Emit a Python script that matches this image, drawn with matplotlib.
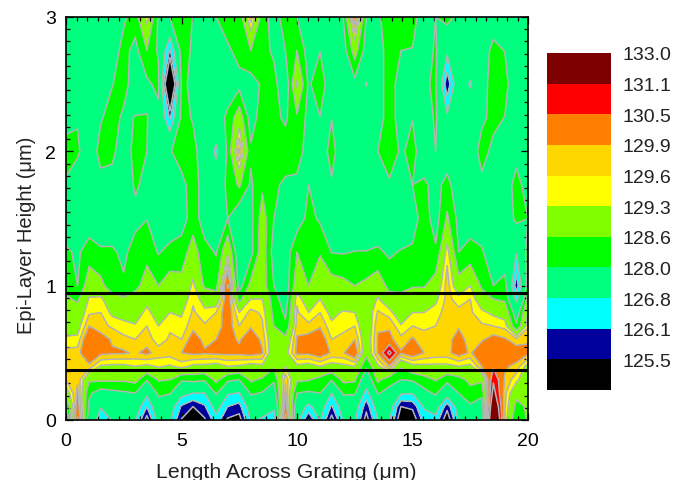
"""
Epi-layer contour map across a grating, with a stepped colour key.
"""

import matplotlib
matplotlib.use("Agg")
import matplotlib.pyplot as plt
import numpy as np
from matplotlib.colors import BoundaryNorm, ListedColormap
from matplotlib.ticker import MultipleLocator

plt.rcParams["font.family"] = ["Liberation Sans", "DejaVu Sans"]

# Contour boundaries and the colour of each band, low to high.
levels = [120.0, 125.5, 126.1, 126.8, 128.0, 128.6, 129.3, 129.6, 129.9, 130.5, 131.1, 133.0, 140.0]
band_colors = ["#000000", "#00009c", "#00ffff", "#00ff7f", "#00ff00", "#7fff00",
               "#ffff00", "#ffd700", "#ff7f00", "#ff0000", "#7f0000", "#7f0000"]
key_levels = [133.0, 131.1, 130.5, 129.9, 129.6, 129.3, 128.6, 128.0, 126.8, 126.1, 125.5]
key_colors = ["#7f0000", "#ff0000", "#ff7f00", "#ffd700", "#ffff00", "#7fff00",
              "#00ff00", "#00ff7f", "#00ffff", "#00009c", "#000000"]

height_um = [0, 0.1, 0.2, 0.3, 0.4, 0.5, 0.6, 0.7, 0.8, 0.9, 1.0, 1.25, 1.5, 1.75, 2.0, 2.25, 2.5, 2.75, 3.0]
length_um = [0, 0.5, 1, 1.5, 2, 2.5, 3, 3.5, 4, 4.5, 5, 5.5, 6, 6.5, 7, 7.5, 8, 8.5, 9, 9.5, 10,
             10.5, 11, 11.5, 12, 12.5, 13, 13.5, 14, 14.5, 15, 15.5, 16, 16.5, 17, 17.5, 18, 18.5, 19, 19.5, 20]

# One list per grating position, bottom of the layer to the top.
col_00 = [127.0, 128.0, 129.0, 129.6, 129.75, 129.7, 129.4, 129.0, 128.8, 128.7, 128.4, 128.1, 127.6, 127.9, 128.3, 127.7, 127.4, 127.4, 127.3]
col_01 = [130.6, 130.2, 130.0, 129.85, 129.8, 129.75, 129.4, 129.1, 128.9, 128.5, 128.0, 127.9, 127.4, 127.6, 128.1, 127.95, 127.5, 127.4, 127.3]
col_02 = [127.5, 127.9, 128.1, 128.7, 129.8, 130.4, 130.4, 129.9, 129.55, 129.35, 129.0, 128.3, 127.6, 127.4, 127.6, 127.5, 127.4, 127.4, 127.3]
col_03 = [126.4, 126.85, 127.7, 128.7, 129.25, 130.0, 130.1, 129.7, 129.6, 129.4, 128.8, 128.1, 127.5, 127.8, 128.2, 127.95, 127.6, 127.4, 127.4]
col_04 = [126.85, 127.0, 127.8, 128.7, 129.2, 129.95, 129.85, 129.55, 129.2, 128.9, 128.2, 128.1, 127.5, 127.67, 128.2, 128.2, 127.98, 127.7, 127.5]
col_05 = [127.2, 127.2, 127.9, 128.7, 129.2, 129.95, 129.7, 129.4, 129.15, 128.7, 128.1, 127.85, 127.6, 127.5, 127.5, 127.9, 128.2, 128.2, 127.9]
col_06 = [126.9, 127.4, 128.0, 128.8, 129.3, 129.85, 129.6, 129.35, 129.0, 128.9, 128.4, 128.3, 127.8, 128.1, 128.3, 128.02, 127.7, 127.8, 128.3]
col_07 = [125.2, 126.1, 127.0, 128.05, 129.2, 130.0, 129.75, 129.6, 129.45, 129.1, 128.9, 128.4, 127.98, 127.8, 128.0, 128.02, 127.85, 128.6, 129.5]
col_08 = [127.2, 127.6, 128.15, 128.65, 129.35, 129.75, 129.45, 129.3, 129.0, 128.8, 128.6, 127.95, 127.5, 127.5, 127.5, 127.75, 128.2, 127.9, 127.9]
col_09 = [126.9, 127.3, 128.05, 128.6, 129.25, 129.75, 129.65, 129.55, 129.3, 129.0, 128.9, 128.2, 127.5, 127.5, 127.95, 126.0, 123.5, 126.0, 128.0]
col_10 = [125.45, 126.0, 127.1, 128.1, 129.45, 129.9, 129.6, 129.4, 129.25, 129.0, 128.8, 128.3, 127.7, 127.8, 128.3, 128.2, 128.1, 128.3, 128.3]
col_11 = [124.8, 125.5, 126.8, 128.2, 129.2, 130.0, 130.1, 129.8, 129.65, 129.55, 129.4, 128.9, 128.3, 128.3, 128.2, 127.95, 127.9, 127.9, 127.98]
col_12 = [125.4, 126.0, 126.8, 128.1, 129.2, 129.95, 129.8, 129.65, 129.4, 129.1, 128.5, 128.2, 127.7, 127.7, 127.6, 127.6, 127.5, 127.6, 127.6]
col_13 = [126.5, 127.2, 128.1, 128.75, 129.1, 130.0, 129.9, 129.7, 129.6, 128.9, 128.4, 127.95, 127.5, 127.5, 126.6, 127.6, 127.6, 127.8, 128.0]
col_14 = [125.4, 126.1, 126.9, 128.15, 129.3, 130.0, 130.05, 130.1, 130.2, 130.3, 130.55, 129.2, 128.0, 128.15, 128.15, 128.15, 127.6, 127.9, 128.3]
col_15 = [125.2, 125.85, 126.75, 128.0, 129.25, 130.0, 129.85, 129.6, 129.3, 128.4, 127.7, 127.4, 127.4, 128.7, 130.0, 129.0, 127.8, 128.2, 128.2]
col_16 = [126.9, 127.35, 128.1, 128.7, 129.1, 130.1, 130.2, 129.85, 129.7, 129.3, 128.8, 127.8, 127.8, 127.9, 128.1, 127.7, 127.7, 128.6, 129.8]
col_17 = [126.7, 127.2, 127.95, 128.5, 129.2, 129.95, 129.8, 129.65, 129.55, 129.3, 128.9, 129.0, 128.9, 128.5, 128.3, 128.3, 128.1, 128.2, 128.3]
col_18 = [126.3, 127.0, 127.6, 128.1, 128.7, 128.8, 128.8, 128.6, 128.4, 128.3, 128.0, 127.7, 128.0, 128.1, 128.3, 128.15, 128.2, 127.9, 127.7]
col_19 = [130.7, 130.2, 130.0, 129.85, 129.3, 129.1, 128.8, 128.1, 127.9, 127.6, 127.6, 127.6, 127.5, 127.9, 128.3, 127.9, 127.5, 128.0, 128.3]
col_20 = [127.1, 127.4, 128.0, 128.7, 129.2, 130.0, 129.95, 129.75, 129.65, 129.55, 129.0, 128.6, 127.6, 127.95, 128.1, 128.5, 129.4, 128.6, 128.0]
col_21 = [125.45, 126.6, 127.9, 128.65, 129.1, 130.0, 130.05, 129.7, 129.3, 128.9, 128.6, 128.5, 128.2, 128.0, 127.9, 127.8, 127.9, 127.7, 127.7]
col_22 = [126.9, 127.3, 128.0, 128.4, 129.3, 130.2, 130.2, 129.85, 129.6, 129.3, 129.0, 128.55, 127.9, 127.6, 127.5, 127.98, 128.4, 127.98, 127.5]
col_23 = [125.2, 126.0, 126.8, 128.05, 129.1, 129.85, 129.6, 129.4, 129.15, 128.85, 128.9, 127.98, 127.4, 127.9, 128.3, 127.98, 127.5, 127.5, 127.7]
col_24 = [126.9, 127.3, 128.1, 128.75, 129.2, 129.85, 129.7, 129.5, 129.35, 128.95, 128.8, 127.95, 127.4, 127.4, 127.4, 127.4, 127.5, 127.7, 128.0]
col_25 = [126.9, 127.3, 128.1, 128.7, 129.3, 130.3, 129.9, 129.6, 129.3, 129.0, 128.6, 128.02, 127.4, 127.4, 127.4, 127.4, 127.8, 128.9, 130.2]
col_26 = [125.2, 125.7, 126.5, 127.4, 128.1, 128.8, 128.9, 128.8, 128.9, 128.9, 128.75, 128.02, 127.5, 127.5, 127.5, 127.6, 126.75, 127.7, 128.0]
col_27 = [126.8, 127.3, 128.05, 128.75, 129.2, 129.95, 129.95, 129.85, 129.65, 129.35, 129.0, 128.1, 127.5, 127.7, 128.0, 127.8, 127.8, 127.7, 127.9]
col_28 = [126.9, 127.3, 127.8, 128.2, 129.9, 131.3, 130.0, 129.85, 129.45, 128.85, 128.4, 127.9, 127.4, 127.9, 128.4, 128.2, 128.2, 128.3, 128.3]
col_29 = [124.9, 125.5, 126.9, 128.0, 128.7, 129.95, 129.7, 129.35, 128.9, 128.7, 128.5, 128.05, 127.4, 127.4, 127.9, 127.8, 127.8, 128.0, 128.3]
col_30 = [125.0, 125.65, 126.85, 128.1, 129.15, 130.2, 129.95, 129.6, 129.3, 128.9, 128.55, 128.1, 127.7, 128.0, 128.2, 127.98, 127.6, 127.98, 128.2]
col_31 = [126.4, 126.9, 127.8, 128.35, 129.2, 129.9, 129.7, 129.55, 129.3, 129.0, 128.55, 128.4, 128.3, 128.1, 127.6, 127.6, 127.9, 127.6, 127.7]
col_32 = [126.5, 127.3, 128.1, 128.65, 129.2, 129.8, 129.7, 129.6, 129.45, 129.2, 128.9, 128.1, 127.7, 127.8, 128.0, 128.1, 128.1, 128.1, 128.0]
col_33 = [125.0, 125.7, 127.3, 128.2, 129.2, 129.8, 129.75, 129.75, 129.75, 129.7, 129.75, 129.5, 128.7, 128.2, 127.6, 127.0, 125.6, 127.0, 128.3]
col_34 = [126.9, 127.3, 128.0, 128.4, 129.3, 130.1, 130.1, 129.85, 129.7, 129.45, 128.9, 128.0, 127.8, 127.6, 127.5, 127.5, 127.6, 127.6, 127.7]
col_35 = [127.5, 127.9, 128.4, 128.75, 129.2, 129.85, 129.7, 129.7, 129.65, 129.6, 129.3, 128.2, 127.7, 127.5, 127.5, 127.6, 126.7, 127.6, 127.6]
col_36 = [127.3, 127.6, 128.2, 128.7, 129.9, 130.2, 129.85, 129.65, 129.4, 128.9, 128.5, 128.1, 127.5, 127.8, 128.3, 127.85, 127.6, 127.6, 127.6]
col_37 = [133.0, 132.2, 131.4, 131.0, 130.4, 130.3, 130.05, 129.6, 129.2, 128.6, 128.0, 127.4, 127.4, 127.5, 127.8, 128.2, 128.4, 128.2, 127.6]
col_38 = [129.6, 129.65, 129.7, 129.85, 129.95, 130.05, 129.95, 129.5, 129.05, 128.5, 128.3, 127.4, 127.4, 127.4, 127.6, 127.98, 128.2, 127.98, 127.6]
col_39 = [128.0, 128.4, 128.8, 129.4, 129.8, 130.15, 129.7, 128.1, 127.6, 126.6, 125.7, 126.85, 128.2, 128.4, 127.6, 127.5, 127.5, 127.5, 127.5]
col_40 = [128.7, 128.7, 128.8, 128.85, 129.1, 130.0, 129.85, 129.55, 129.35, 128.8, 128.4, 128.3, 128.0, 127.5, 127.5, 127.5, 127.5, 127.5, 127.5]

columns = [col_00, col_01, col_02, col_03, col_04, col_05, col_06, col_07, col_08, col_09, col_10,
           col_11, col_12, col_13, col_14, col_15, col_16, col_17, col_18, col_19, col_20,
           col_21, col_22, col_23, col_24, col_25, col_26, col_27, col_28, col_29, col_30,
           col_31, col_32, col_33, col_34, col_35, col_36, col_37, col_38, col_39, col_40]

# The two horizontal markers across the map.
marker_heights = [0.375, 0.945]

FIG_W, FIG_H = 688, 481


def axes_box(left, top, right, bottom):
    return [left / FIG_W, (FIG_H - bottom) / FIG_H, (right - left) / FIG_W, (bottom - top) / FIG_H]


def draw_map(ax):
    grid = np.column_stack(columns)
    ax.contourf(length_um, height_um, grid, levels=levels, colors=band_colors)
    ax.contour(length_um, height_um, grid, levels=levels[1:-1], colors="#b4b4b4", linewidths=1.1)
    for h in marker_heights:
        ax.axhline(h, color="black", linewidth=2.2)

    ax.set_xlim(0, 20)
    ax.set_ylim(0, 3)
    ax.xaxis.set_major_locator(MultipleLocator(5))
    ax.xaxis.set_minor_locator(MultipleLocator(5 / 11))
    ax.yaxis.set_major_locator(MultipleLocator(1))
    ax.yaxis.set_minor_locator(MultipleLocator(1 / 11))
    ax.tick_params(which="both", direction="in", top=True, right=True, width=0.9, color="black")
    ax.tick_params(which="major", length=5, labelsize=14, pad=9)
    ax.tick_params(which="minor", length=3)
    ax.tick_params(axis="y", which="major", pad=7)
    ax.set_xlabel("Length Across Grating (\u03bcm)", fontsize=15.3, labelpad=9, x=0.476, color="#222222")
    ax.set_ylabel("Epi-Layer Height (\u03bcm)", fontsize=14.5, labelpad=7, y=0.46, color="#222222")
    for spine in ax.spines.values():
        spine.set_linewidth(1.2)


def draw_key(ax):
    n = len(key_colors)
    cells = np.arange(n)[:, None]
    ax.pcolormesh([0, 1], np.arange(n + 1), cells, shading="flat",
                  cmap=ListedColormap(key_colors[::-1]), norm=BoundaryNorm(np.arange(n + 1) - 0.5, n))
    ax.set_xticks([])
    ax.yaxis.tick_right()
    ax.set_yticks(np.arange(n, 0, -1))
    ax.set_yticklabels([f"{v:.1f}" for v in key_levels], fontsize=14, color="#222222")
    ax.tick_params(axis="y", length=0, pad=8)
    for spine in ax.spines.values():
        spine.set_visible(False)


def main():
    fig = plt.figure(figsize=(FIG_W / 100, FIG_H / 100), dpi=100)
    draw_map(fig.add_axes(axes_box(66, 18, 528, 421)))
    draw_key(fig.add_axes(axes_box(547, 54, 611, 391)))
    fig.savefig("out.png", dpi=100)
    plt.close(fig)


if __name__ == "__main__":
    main()
